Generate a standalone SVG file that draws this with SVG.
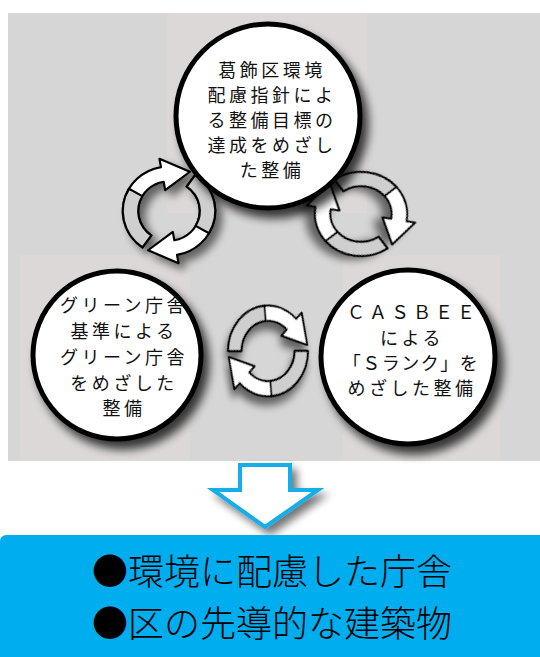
<svg xmlns="http://www.w3.org/2000/svg" xmlns:xlink="http://www.w3.org/1999/xlink" width="540" height="657" viewBox="0 0 540 657">
<style>
.node{fill:#fff;stroke:#000;stroke-width:5}
.t{font-family:"Noto Sans CJK JP","Noto Sans",sans-serif;font-size:18px;fill:#111;text-anchor:middle;letter-spacing:3.5px}
.big{font-family:"Noto Sans CJK JP","Noto Sans",sans-serif;font-size:36px;font-weight:300;fill:#000}
.bw{fill:#fff;stroke:#000;stroke-width:2;stroke-linejoin:round}
.bg{fill:#cfcfcf;stroke:#000;stroke-width:2;stroke-linejoin:round}
</style>
<defs>
<filter id="sh" x="-20%" y="-20%" width="150%" height="150%">
<feGaussianBlur in="SourceAlpha" stdDeviation="5"/>
<feOffset dx="6" dy="8"/>
<feComponentTransfer><feFuncA type="linear" slope="0.75"/></feComponentTransfer>
<feMerge><feMergeNode/><feMergeNode in="SourceGraphic"/></feMerge>
</filter>
<filter id="sh2" x="-30%" y="-30%" width="170%" height="170%">
<feGaussianBlur in="SourceAlpha" stdDeviation="4"/>
<feOffset dx="5" dy="6"/>
<feComponentTransfer><feFuncA type="linear" slope="0.55"/></feComponentTransfer>
<feMerge><feMergeNode/><feMergeNode in="SourceGraphic"/></feMerge>
</filter>
<g id="band">
<path class="bw" d="M -24.09 34.41 A 42 42 0 0 1 -7.29 -41.36 L -8.68 -49.24 L 19 -37 L -3.47 -19.70 L -4.86 -27.57 A 28 28 0 0 0 -16.06 22.94 Z"/>
<path class="bg" d="M -24.09 34.41 A 42 42 0 0 1 -36.37 -21 L -24.25 -14 A 28 28 0 0 0 -16.06 22.94 Z"/>
</g>
</defs>

<rect x="8" y="13" width="532" height="448" fill="#d6d6d6"/>
<rect x="167" y="13" width="200" height="200" fill="#dbd8d7"/>
<rect x="20" y="255" width="170" height="206" fill="#dbd8d7"/>
<rect x="343" y="255" width="157" height="206" fill="#dbd8d7"/>

<g id="connectors">
<g filter="url(#sh2)" transform="translate(169,211) scale(1.1,1.06)">
<use xlink:href="#band"/><use xlink:href="#band" transform="rotate(180)"/>
</g>
<g filter="url(#sh2)" transform="translate(361,214) scale(1.1,1.0) rotate(110)">
<use xlink:href="#band"/><use xlink:href="#band" transform="rotate(180)"/>
</g>
<g filter="url(#sh2)" transform="translate(268,351) scale(0.95,1.08) rotate(55)">
<use xlink:href="#band"/><use xlink:href="#band" transform="rotate(180)"/>
</g>
</g>

<g id="node-top">
<circle class="node" cx="268" cy="116" r="92" filter="url(#sh)"/>
<text class="t" x="272" y="77">葛飾区環境</text>
<text class="t" x="272" y="102">配慮指針によ</text>
<text class="t" x="272" y="127">る整備目標の</text>
<text class="t" x="272" y="152">達成をめざし</text>
<text class="t" x="272" y="177">た整備</text>
</g>

<g id="node-left">
<circle class="node" cx="117" cy="355" r="84" filter="url(#sh)"/>
<text class="t" x="124" y="312">グリーン庁舎</text>
<text class="t" x="124" y="338">基準による</text>
<text class="t" x="124" y="364">グリーン庁舎</text>
<text class="t" x="124" y="390">をめざした</text>
<text class="t" x="124" y="415">整備</text>
</g>

<g id="node-right">
<circle class="node" cx="408" cy="357" r="87" filter="url(#sh)"/>
<text class="t" x="413" y="319" style="letter-spacing:4px">ＣＡＳＢＥＥ</text>
<text class="t" x="412" y="345">による</text>
<text class="t" x="411" y="370" style="letter-spacing:1.5px">「Ｓランク」を</text>
<text class="t" x="412" y="395">めざした整備</text>
</g>

<g id="node-arrow">
<polygon points="240,465 290,465 290,490 318,490 265,527 213,490 240,490" fill="#fff" stroke="#16aee8" stroke-width="4" stroke-linejoin="miter" filter="url(#sh2)"/>
</g>

<g id="node-result">
<rect x="0" y="535" width="546" height="130" rx="6" fill="#00aeef"/>
<text class="big" x="92" y="585">●環境に配慮した庁舎</text>
<text class="big" x="92" y="637">●区の先導的な建築物</text>
</g>
</svg>
